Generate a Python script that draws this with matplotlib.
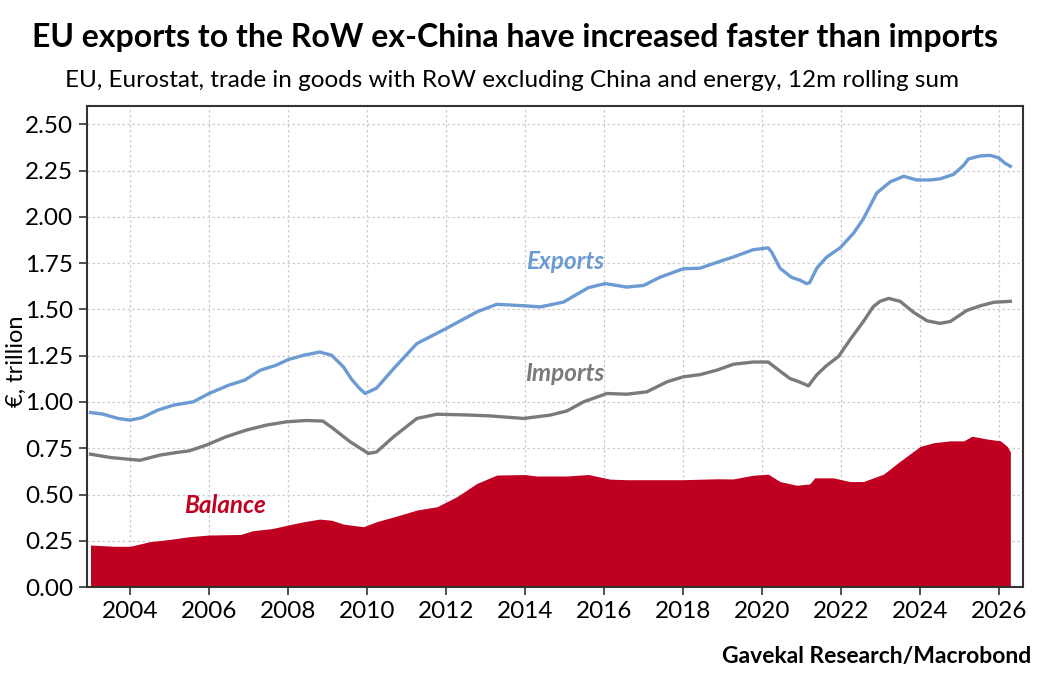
import matplotlib
matplotlib.use("Agg")
import matplotlib.pyplot as plt
import numpy as np

## Data (year as decimal, EUR trillion) ##
exp_year = [2003.0, 2003.3, 2003.7, 2004.0, 2004.3, 2004.7, 2005.1, 2005.6, 2006.0, 2006.5,
            2006.9, 2007.3, 2007.7, 2008.0, 2008.4, 2008.8, 2009.1, 2009.4, 2009.6, 2009.8,
            2009.95, 2010.24, 2010.67, 2011.26, 2012.0, 2012.78, 2013.28, 2013.99, 2014.38,
            2014.97, 2015.6, 2016.03, 2016.57, 2017.0, 2017.42, 2018.0, 2018.42, 2018.93,
            2019.26, 2019.77, 2020.15, 2020.24, 2020.45, 2020.74, 2020.96, 2021.12, 2021.2,
            2021.38, 2021.63, 2021.97, 2022.31, 2022.56, 2022.9, 2023.24, 2023.58, 2023.91,
            2024.25, 2024.5, 2024.84, 2025.1, 2025.22, 2025.52, 2025.77, 2025.98, 2026.15,
            2026.28]
exports = [0.943, 0.935, 0.911, 0.902, 0.915, 0.956, 0.983, 1.001, 1.046, 1.091,
           1.118, 1.172, 1.199, 1.229, 1.253, 1.270, 1.253, 1.190, 1.125, 1.075,
           1.046, 1.075, 1.180, 1.316, 1.397, 1.487, 1.528, 1.520, 1.514,
           1.540, 1.618, 1.640, 1.621, 1.630, 1.675, 1.720, 1.723, 1.760,
           1.783, 1.823, 1.833, 1.810, 1.723, 1.674, 1.658, 1.640, 1.645,
           1.723, 1.783, 1.833, 1.912, 1.990, 2.130, 2.190, 2.220, 2.200,
           2.200, 2.206, 2.230, 2.280, 2.314, 2.330, 2.333, 2.320, 2.290,
           2.274]

imp_year = [2003.0, 2003.5, 2004.0, 2004.25, 2004.76, 2005.18, 2005.5, 2005.93, 2006.43, 2006.94,
            2007.45, 2007.96, 2008.46, 2008.88, 2009.14, 2009.57, 2010.03, 2010.24, 2010.67,
            2011.26, 2011.77, 2012.52, 2013.1, 2013.96, 2014.63, 2015.06, 2015.48, 2016.07,
            2016.57, 2017.08, 2017.59, 2018.0, 2018.43, 2018.85, 2019.27, 2019.77, 2020.15,
            2020.45, 2020.7, 2020.96, 2021.17, 2021.38, 2021.63, 2021.93, 2022.22, 2022.56,
            2022.81, 2022.98, 2023.2, 2023.49, 2023.83, 2024.17, 2024.5, 2024.76, 2025.18,
            2025.52, 2025.86, 2026.28]
imports = [0.718, 0.700, 0.690, 0.685, 0.713, 0.727, 0.736, 0.767, 0.812, 0.848,
           0.875, 0.893, 0.900, 0.897, 0.857, 0.785, 0.722, 0.730, 0.812,
           0.911, 0.934, 0.930, 0.925, 0.911, 0.929, 0.952, 1.001, 1.046,
           1.042, 1.055, 1.109, 1.136, 1.148, 1.172, 1.204, 1.216, 1.216,
           1.167, 1.127, 1.107, 1.087, 1.147, 1.197, 1.246, 1.336, 1.435,
           1.515, 1.544, 1.560, 1.544, 1.485, 1.439, 1.425, 1.435, 1.495,
           1.520, 1.539, 1.544]

bal_year = [2003.0, 2003.6, 2004.0, 2004.5, 2005.0, 2005.5, 2006.0, 2006.8, 2007.1, 2007.6,
            2008.0, 2008.4, 2008.8, 2009.1, 2009.4, 2009.57, 2009.91, 2010.24, 2010.84,
            2011.26, 2011.77, 2012.27, 2012.78, 2013.28, 2013.99, 2014.29, 2015.06, 2015.6,
            2016.15, 2016.57, 2017.16, 2018.0, 2018.85, 2019.26, 2019.77, 2020.15, 2020.45,
            2020.87, 2021.2, 2021.33, 2021.8, 2022.22, 2022.56, 2023.07, 2023.49, 2024.0,
            2024.34, 2024.76, 2025.1, 2025.31, 2025.69, 2026.03, 2026.2, 2026.28]
balance = [0.227, 0.220, 0.220, 0.245, 0.257, 0.272, 0.281, 0.284, 0.304, 0.316,
           0.335, 0.353, 0.367, 0.361, 0.340, 0.335, 0.326, 0.353, 0.389,
           0.416, 0.434, 0.488, 0.560, 0.605, 0.608, 0.600, 0.600, 0.608,
           0.583, 0.580, 0.580, 0.580, 0.585, 0.584, 0.604, 0.610, 0.570,
           0.550, 0.557, 0.590, 0.590, 0.570, 0.570, 0.610, 0.680, 0.760,
           0.780, 0.790, 0.790, 0.815, 0.800, 0.790, 0.760, 0.730]

x_ticks = [2004, 2006, 2008, 2010, 2012, 2014, 2016, 2018, 2020, 2022, 2024, 2026]
y_ticks = [0.0, 0.25, 0.5, 0.75, 1.0, 1.25, 1.5, 1.75, 2.0, 2.25, 2.5]

BLUE = "#6b9bd2"
GREY = "#7a7a7a"
RED = "#c00020"

plt.rcParams['font.family'] = ['Lato', 'DejaVu Sans']

fig = plt.figure(figsize=(10.39, 6.78), dpi=100)
ax = fig.add_axes([0.0837, 0.1342, 0.9009, 0.7095])

ax.fill_between(bal_year, balance, 0, color=RED, linewidth=0, zorder=2)
ax.plot(imp_year, imports, color=GREY, lw=2.4, zorder=3)
ax.plot(exp_year, exports, color=BLUE, lw=2.4, zorder=3)

ax.set_xlim(2002.91, 2026.6)
ax.set_ylim(0, 2.6)
ax.set_xticks(x_ticks)
ax.set_yticks(y_ticks)
ax.set_yticklabels([f"{v:.2f}" for v in y_ticks])
ax.tick_params(labelsize=17.5, length=6, width=1.2, color="#333333", pad=4)
ax.grid(True, color="#cccccc", linestyle=(0, (2, 2)), linewidth=0.9, zorder=0)
for s in ax.spines.values():
    s.set_color("#333333")
    s.set_linewidth(1.5)
ax.set_ylabel("€, trillion", fontsize=17)
ax.yaxis.set_label_coords(-0.064, 0.47)

ax.text(2015.0, 1.76, "Exports", color=BLUE, fontsize=17.5, style="italic",
        fontweight="bold", ha="center", va="center")
ax.text(2015.0, 1.155, "Imports", color=GREY, fontsize=17.5, style="italic",
        fontweight="bold", ha="center", va="center")
ax.text(2006.4, 0.443, "Balance", color=RED, fontsize=17.5, style="italic",
        fontweight="bold", ha="center", va="center")

fig.text(0.496, 0.945, "EU exports to the RoW ex-China have increased faster than imports",
         fontsize=23, fontweight="bold", ha="center", va="center")
fig.text(0.493, 0.882, "EU, Eurostat, trade in goods with RoW excluding China and energy, 12m rolling sum",
         fontsize=17.5, ha="center", va="center")
fig.text(0.993, 0.031, "Gavekal Research/Macrobond", fontsize=16.5, fontweight="bold",
         ha="right", va="center")

fig.savefig("out.png", dpi=100)
